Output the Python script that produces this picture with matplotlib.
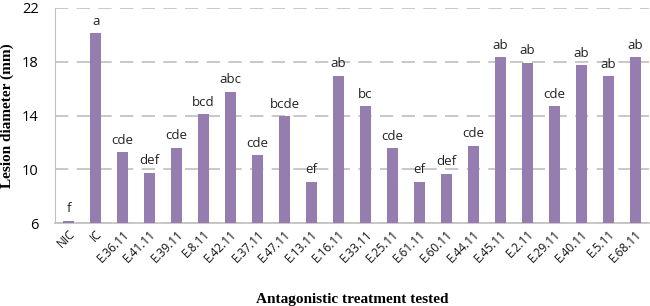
import matplotlib.pyplot as plt
import numpy as np

treatments = ['NIC', 'IC', 'E.36.11', 'E.41.11', 'E.39.11', 'E.8.11', 'E.42.11', 'E.37.11',
              'E.47.11', 'E.13.11', 'E.16.11', 'E.33.11', 'E.25.11', 'E.61.11', 'E.60.11',
              'E.44.11', 'E.45.11', 'E.2.11', 'E.29.11', 'E.40.11', 'E.5.11', 'E.68.11']
diameter = [6.2, 20.1, 11.27, 9.76, 11.6, 14.1, 15.76, 11.05, 13.94, 9.1, 16.93, 14.7,
            11.57, 9.07, 9.67, 11.74, 18.31, 17.91, 14.7, 17.72, 16.9, 18.31]
letters = ['f', 'a', 'cde', 'def', 'cde', 'bcd', 'abc', 'cde', 'bcde', 'ef', 'ab', 'bc',
           'cde', 'ef', 'def', 'cde', 'ab', 'ab', 'cde', 'ab', 'ab', 'ab']

fig, ax = plt.subplots(figsize=(6.5, 3.06), dpi=100)
fig.subplots_adjust(left=0.085, right=0.998, top=0.975, bottom=0.27)

x = np.arange(len(treatments))
ax.bar(x, np.array(diameter) - 6, bottom=6, width=0.42, color='#957DB0', zorder=3)

for xi, v, s in zip(x, diameter, letters):
    ax.annotate(s, (xi, v), xytext=(0, 4), textcoords='offset points',
                ha='center', va='bottom', fontsize=9.5, family='Open Sans', color='#222222')

ax.set_ylim(6, 22)
ax.set_xlim(-0.5, len(treatments) - 0.5)
ax.set_yticks([6, 10, 14, 18, 22])
ax.yaxis.grid(True, color='#bfbfbf', linestyle=(0, (8, 5)), linewidth=1.2, zorder=0)
ax.tick_params(axis='y', length=0, labelsize=10.5, pad=12)
ax.tick_params(axis='x', length=0, labelsize=8.5, pad=3, labelcolor='#111111')
for lab in ax.get_yticklabels():
    lab.set_family('Open Sans')

ax.set_xticks(x)
ax.set_xticklabels(treatments, rotation=45, ha='right', rotation_mode='anchor',
                   family='Open Sans')

for side in ['top', 'right']:
    ax.spines[side].set_visible(False)
ax.spines['left'].set_color('#bfbfbf')
ax.spines['bottom'].set_color('#bfbfbf')
ax.spines['bottom'].set_linewidth(1.2)

ax.set_ylabel('Lesion diameter (mm)', family='Liberation Serif', fontweight='bold',
              fontsize=11, labelpad=6)
ax.set_xlabel('Antagonistic treatment tested', family='Liberation Serif', fontweight='bold',
              fontsize=11, labelpad=20)

plt.savefig('out.png', dpi=100)
